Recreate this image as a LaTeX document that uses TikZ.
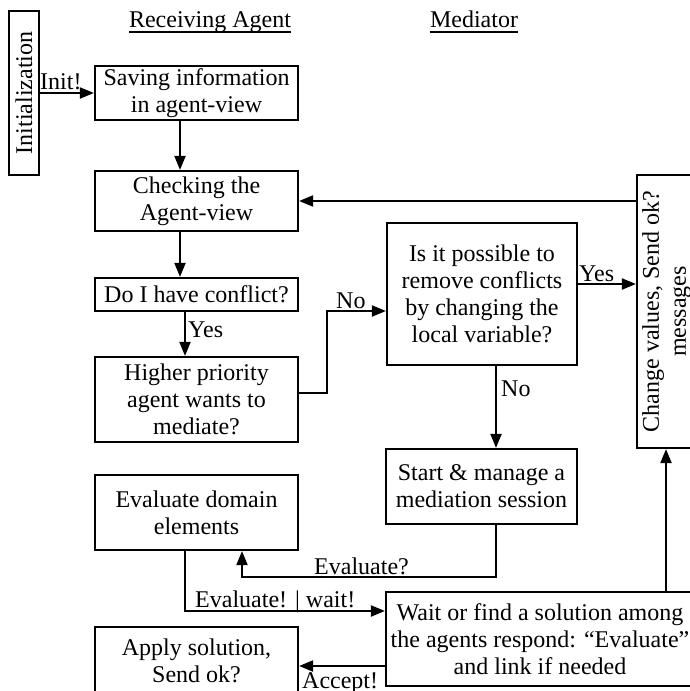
\documentclass[tikz,border=0pt]{standalone}
\usepackage{fontspec}
\usepackage{graphicx}
\setmainfont{Liberation Serif}
\usetikzlibrary{arrows.meta}
\tikzset{
  box/.style={draw, line width=2.2pt, align=center, inner sep=0pt,
    font=\fontsize{24}{27}\selectfont},
  lbl/.style={inner sep=0pt, font=\fontsize{24}{27}\selectfont, anchor=base west},
  hdr/.style={inner sep=0pt, font=\fontsize{24}{27}\selectfont, anchor=base},
  arr/.style={-{Triangle[length=14pt,width=11pt]}, line width=2pt},
  ln/.style={line width=2pt}
}
\begin{document}
\begin{tikzpicture}[x=1pt,y=-1pt]
\useasboundingbox (0,0) rectangle (690,691);
\clip (0,0) rectangle (690,691);
% headers
\node[hdr] (hA) at (210,27) {Receiving Agent};
\node[hdr] (hM) at (474,27) {Mediator};
\draw[line width=1.5pt] ([yshift=-5pt]hA.base west) -- ([yshift=-5pt]hA.base east);
\draw[line width=1.5pt] ([yshift=-5pt]hM.base west) -- ([yshift=-5pt]hM.base east);
% boxes
\node[box, minimum width=30, minimum height=164] (init) at (24,93) {\rotatebox{90}{Initialization}};
\node[box, minimum width=203, minimum height=54] (save) at (196.5,93) {Saving information\\in agent-view};
\node[box, minimum width=203, minimum height=60] (check) at (196.5,201) {Checking the\\Agent-view};
\node[box, minimum width=203, minimum height=33] (conf) at (196.5,294.5) {Do I have conflict?};
\node[box, minimum width=203, minimum height=85] (higher) at (196.5,399.5) {Higher priority\\agent wants to\\mediate?};
\node[box, minimum width=190, minimum height=142] (isit) at (482,294) {Is it possible to\\remove conflicts\\by changing the\\local variable?};
\node[box, minimum width=60, minimum height=273] (change) at (667,311.5) {\rotatebox{90}{\begin{tabular}{@{}c@{}}Change values, Send ok?\\messages\end{tabular}}};
\node[box, minimum width=191, minimum height=75] (start) at (481.5,486.5) {Start \& manage a\\mediation session};
\node[box, minimum width=203, minimum height=75] (evald) at (196.5,512.5) {Evaluate domain\\elements};
\node[box, minimum width=308, minimum height=94] (wait) at (540,639) {Wait or find a solution among\\the agents respond: “Evaluate”\\and link if needed};
\node[box, minimum width=203, minimum height=67] (apply) at (196.5,660.5) {Apply solution,\\Send ok?};
% turning points
\coordinate (x180) at (180,0);
\coordinate (x185) at (185,0);
\coordinate (h1) at (298,393);
\coordinate (h2) at (327,393);
\coordinate (h3) at (327,311);
\coordinate (yes) at (577,284);
\coordinate (x496) at (496,0);
\coordinate (e1) at (496,577);
\coordinate (e2) at (242,577);
\coordinate (w1) at (185,611);
\coordinate (a1) at (386,666);
\coordinate (c1) at (666,0);
% connectors
\draw[arr] (init) -- (save);
\draw[arr] (save.south -| x180) -- (check.north -| x180);
\draw[arr] (check.south -| x180) -- (conf.north -| x180);
\draw[arr] (conf.south -| x185) -- (higher.north -| x185);
\draw[arr] (higher.east |- h1) -- (h2) -- (h3) -- (isit.west |- h3);
\draw[arr] (isit.east |- yes) -- (change.west |- yes);
\draw[arr] (change.west |- check.east) -- (check.east);
\draw[arr] (isit.south -| x496) -- (start.north -| x496);
\draw[arr] (start.south -| e1) -- (e1) -- (e2) -- (evald.south -| e2);
\draw[arr] (evald.south -| w1) -- (w1) -- (wait.west |- w1);
\draw[arr] (wait.west |- a1) -- (apply.east |- a1);
\draw[arr] (wait.north -| c1) -- (change.south -| c1);
% labels
\node[lbl] (lInit) at (40,89) {Init!};
\node[lbl] (lYes1) at (188,337) {Yes};
\node[lbl] (lNo1) at (336,308) {No};
\node[lbl] (lYes2) at (579,281) {Yes};
\node[lbl] (lNo2) at (501,396) {No};
\node[lbl] (lEv) at (314,574) {Evaluate?};
\node[lbl] (lEw) at (195,607) {Evaluate! | wait!};
\node[lbl] (lAc) at (302,688) {Accept!};
\end{tikzpicture}
\end{document}
